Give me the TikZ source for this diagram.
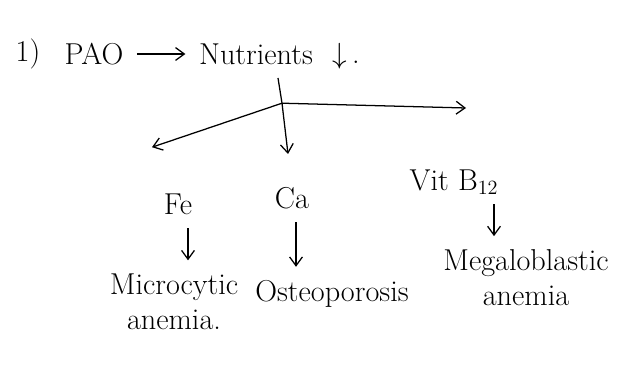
\documentclass[tikz,border=0pt]{standalone}
\usepackage{tikz}
\usetikzlibrary{arrows.meta}
\usepackage{amsmath}
\tikzset{>={Straight Barb[length=2.2mm,width=3.2mm]}}
\tikzset{ink/.style={font=\fontsize{21.5}{25}\selectfont, inner sep=1pt, align=center}}
\tikzset{pen/.style={line width=0.9pt, ->}}

\begin{document}
\begin{tikzpicture}
\useasboundingbox (0,0) rectangle (15.8,9.3);

\node (N1) at (0.7,7.95) [ink] {1)};
\node (PAO) at (2.35,7.95) [ink] {PAO};
\node (Nut) at (6.4,7.95) [ink] {Nutrients};
\node (dec) at (8.65,7.9) [ink] {$\downarrow$\,.};
\coordinate (top) at (6.95,7.35);
\coordinate (split) at (7.05,6.72);
\coordinate (toFe) at (3.8,5.62);
\coordinate (toCa) at (7.2,5.45);
\coordinate (toVit) at (11.65,6.6);

\node (Fe) at (4.45,4.2) [ink] {Fe};
\node (Ca) at (7.3,4.35) [ink] {Ca};
\node (Vit) at (11.35,4.75) [ink] {Vit B$_{12}$};
\node (Mic) at (4.35,1.75) [ink] {Microcytic\\anemia.};
\node (Ost) at (8.3,1.95) [ink] {Osteoporosis};
\node (Meg) at (13.15,2.35) [ink] {Megaloblastic\\anemia};

\draw [pen, shorten <=3mm, shorten >=3mm] (PAO) -- (Nut);
\draw [line width=0.9pt] (top) -- (split);
\draw [pen] (split) -- (toFe);
\draw [pen] (split) -- (toCa);
\draw [pen] (split) -- (toVit);

\draw [pen, shorten <=3mm, shorten >=3mm] (Fe.south -| 4.7,0) -- (Mic.north -| 4.7,0);
\draw [pen, shorten <=3mm, shorten >=3mm] (Ca.south -| 7.4,0) -- (Ost.north -| 7.4,0);
\draw [pen, shorten <=2mm, shorten >=3mm] (Vit.south -| 12.35,0) -- (Meg.north -| 12.35,0);

\end{tikzpicture}
\end{document}
